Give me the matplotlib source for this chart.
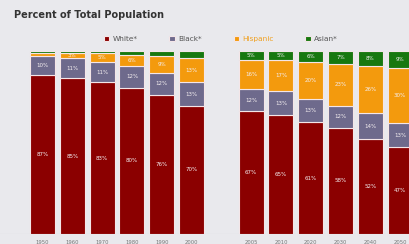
import matplotlib
matplotlib.use("Agg")
import matplotlib.pyplot as plt
import numpy as np

# ---- data ----
years_left = ["1950", "1960", "1970", "1980", "1990", "2000"]
years_right = ["2005", "2010", "2020", "2030", "2040", "2050"]
series = ["White*", "Black*", "Hispanic", "Asian*"]
white = [87, 85, 83, 80, 76, 70, 67, 65, 61, 58, 52, 47]
black = [10, 11, 11, 12, 12, 13, 12, 13, 13, 12, 14, 13]
hispanic = [2, 3, 5, 6, 9, 13, 16, 17, 20, 23, 26, 30]
asian = [1, 1, 1, 2, 3, 4, 5, 5, 6, 7, 8, 9]

colors = ["#8b0000", "#6e6a8c", "#f39a0d", "#17780f"]
bg = "#e9e9ed"
min_label = {"White*": 3, "Black*": 3, "Hispanic": 3, "Asian*": 5}

W, H = 409, 244
fig = plt.figure(figsize=(W / 100, H / 100), dpi=100, facecolor=bg)
ax = fig.add_axes([0, 10 / H, 1, 183 / H])
ax.set_facecolor(bg)

labels = years_left + [""] + years_right
pos = list(range(6)) + list(range(7, 13))
vals = np.array([white, black, hispanic, asian], dtype=float)
tot = vals.sum(axis=0)
norm = vals / tot * 100

bottom = np.zeros(len(pos))
for i, name in enumerate(series):
    ax.bar(pos, norm[i], 0.84, bottom=bottom, color=colors[i],
           edgecolor="#f4e6e8", linewidth=0.8, label=name)
    for x, b, h, v in zip(pos, bottom, norm[i], vals[i]):
        if v >= min_label[name]:
            ax.text(x, b + h / 2, f"{int(v)}%", ha="center", va="center",
                    fontsize=4, color="#f4eef0")
    bottom += norm[i]

ax.axhline(0, color="#c8c8cc", lw=0.8, zorder=0)
ax.set_xlim(-1.43, 12.30)
ax.set_ylim(0, 100)
ax.set_xticks([p for p in range(13)])
ax.set_xticklabels(labels, fontsize=3.8, color="#777777")
ax.tick_params(axis="x", length=0, pad=4.2)
ax.set_yticks([])
for s in ax.spines.values():
    s.set_visible(False)

fig.text(14 / W, 1 - 15 / H, "Percent of Total Population", fontsize=7,
         fontweight="bold", color="#333333", ha="left", va="center")

leg = fig.legend(loc="center", bbox_to_anchor=(221 / W, 1 - 39 / H), ncol=4,
                 frameon=False, fontsize=5.3, handlelength=0.7, handleheight=0.7,
                 columnspacing=4.3, handletextpad=0.5)
for t, c in zip(leg.get_texts(), ["#555555", "#555555", "#f0a020", "#555555"]):
    t.set_color(c)

fig.savefig("out.png", dpi=100, facecolor=bg)
